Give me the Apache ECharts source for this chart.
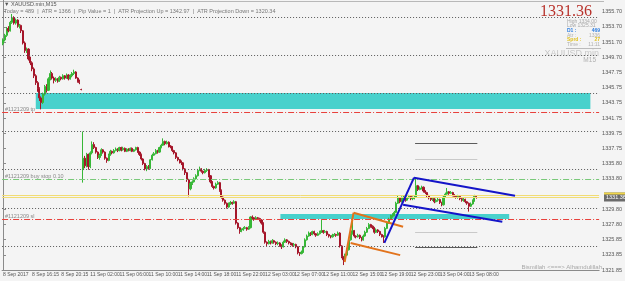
<!DOCTYPE html>
<html>
<head>
<meta charset="utf-8">
<script src="https://cdn.jsdelivr.net/npm/echarts@6/dist/echarts.min.js"></script>
<style>
  html, body { margin: 0; padding: 0; background: #f4f4f4; }
  #chart { width: 625px; height: 281px; }
</style>
</head>
<body>
<div id="chart"></div>
<script>
// XAUUSD.min M15 candles, [open, close, low, high]
const sep8 = [
  [1351.5,1352.0,1351.3,1352.2],[1352.0,1352.6,1351.8,1352.8],[1352.6,1353.5,1352.4,1353.7],[1353.5,1353.2,1353.0,1353.8],
  [1353.2,1354.3,1353.1,1354.5],[1354.3,1354.9,1354.1,1355.4],[1354.9,1354.2,1354.0,1355.1],[1354.2,1354.6,1354.0,1354.8],
  [1354.6,1353.8,1353.6,1354.7],[1353.8,1353.9,1353.5,1354.1],[1353.9,1353.2,1352.9,1354.0],[1353.2,1351.6,1351.4,1353.3],
  [1351.6,1350.6,1350.3,1351.8],[1350.6,1350.8,1350.3,1351.0],[1350.8,1349.5,1349.3,1350.9],[1349.5,1349.0,1348.7,1349.8],
  [1349.0,1348.2,1347.9,1349.2],[1348.2,1347.3,1347.0,1348.4],[1347.3,1346.4,1346.1,1347.5],[1346.4,1345.6,1345.2,1346.6],
  [1345.6,1344.4,1344.0,1345.8],[1344.4,1343.8,1342.9,1344.6],[1343.8,1344.9,1343.6,1345.1],[1344.9,1345.9,1344.7,1346.1],
  [1345.9,1345.4,1345.1,1346.2],[1345.4,1346.9,1345.3,1347.1],[1346.9,1347.6,1346.7,1348.0],[1347.6,1347.0,1346.8,1347.8],
  [1347.0,1346.7,1346.3,1347.2],[1346.7,1346.9,1346.5,1347.1],[1346.9,1346.6,1346.4,1347.0],[1346.6,1347.1,1346.5,1347.3],
  [1347.1,1346.9,1346.7,1347.2],[1346.9,1347.3,1346.8,1347.5],[1347.3,1347.0,1346.8,1347.4],[1347.0,1347.4,1346.9,1347.6],
  [1347.4,1346.9,1346.7,1347.5],[1346.9,1347.3,1346.8,1347.5],[1347.3,1347.6,1347.1,1347.8],[1347.6,1347.8,1347.4,1348.1],
  [1347.8,1347.0,1346.9,1347.9],[1347.0,1346.6,1346.4,1347.1],[1346.6,1346.4,1346.2,1346.8],[1345.5,1345.5,1345.4,1345.6]
];
const sep11 = [
  [1335.0,1336.5,1333.3,1340.0],[1336.5,1335.5,1335.2,1336.8],[1335.5,1337.0,1335.3,1337.2],[1337.0,1335.4,1335.0,1337.1],
  [1335.4,1337.2,1335.2,1337.4],[1337.2,1338.3,1337.0,1338.7],[1338.3,1337.9,1337.7,1338.6],[1337.9,1337.3,1337.1,1338.0],
  [1337.3,1336.6,1336.4,1337.4],[1336.6,1336.9,1336.3,1337.1],[1336.9,1337.6,1336.8,1337.8],[1337.6,1337.3,1337.1,1337.7],
  [1337.3,1336.5,1336.3,1337.4],[1336.5,1336.2,1335.9,1336.6],[1336.2,1336.9,1336.1,1337.1],[1336.9,1337.4,1336.8,1337.6],
  [1337.4,1337.2,1337.0,1337.5],[1337.2,1337.5,1337.1,1337.7],[1337.5,1337.7,1337.4,1337.9],[1337.7,1337.5,1337.3,1337.8],
  [1337.5,1337.9,1337.4,1338.0],[1337.9,1337.6,1337.4,1338.0],[1337.6,1337.8,1337.5,1338.0],[1337.8,1337.4,1337.3,1337.9],
  [1337.4,1337.7,1337.3,1337.8],[1337.7,1337.5,1337.4,1337.8],[1337.5,1337.8,1337.4,1337.9],[1337.8,1337.4,1337.3,1337.9],
  [1337.4,1337.6,1337.3,1337.7],[1337.6,1337.9,1337.5,1338.0],[1337.9,1337.3,1337.2,1338.0],[1337.3,1337.0,1336.8,1337.4],
  [1337.0,1336.4,1336.2,1337.1],[1336.4,1335.8,1335.6,1336.5],[1335.8,1335.1,1334.9,1335.9],[1335.1,1335.4,1334.8,1335.6],
  [1335.4,1335.2,1335.0,1335.6],[1335.2,1336.3,1335.1,1336.4],[1336.3,1336.9,1336.2,1337.1],[1336.9,1337.1,1336.8,1337.3],
  [1337.1,1337.5,1337.0,1337.7],[1337.5,1337.3,1337.1,1337.6],[1337.3,1337.9,1337.2,1338.0],[1337.9,1338.2,1337.8,1338.4],
  [1338.2,1338.7,1338.1,1339.1],[1338.7,1338.4,1338.2,1338.8],[1338.4,1338.6,1338.3,1338.8],[1338.6,1338.1,1337.9,1338.7],
  [1338.1,1338.0,1337.8,1338.2],[1338.0,1337.5,1337.3,1338.1],[1337.5,1337.2,1337.0,1337.6],[1337.2,1336.6,1336.4,1337.3],
  [1336.6,1336.3,1336.1,1336.7],[1336.3,1336.0,1335.8,1336.4],[1336.0,1335.9,1335.6,1336.2],[1335.9,1335.1,1334.9,1336.0],
  [1335.1,1334.6,1334.3,1335.2],[1334.6,1333.7,1333.4,1334.7],[1333.7,1332.5,1331.5,1333.8],[1332.5,1333.2,1332.3,1333.4],
  [1333.2,1333.4,1333.0,1333.6],[1333.4,1333.8,1333.3,1334.0],[1333.8,1334.2,1333.7,1334.4],[1334.2,1334.9,1334.1,1335.1],
  [1334.9,1335.1,1334.8,1335.4],[1335.1,1334.8,1334.6,1335.2],[1334.8,1334.6,1334.4,1334.9],[1334.6,1334.9,1334.5,1335.1],
  [1334.9,1335.0,1334.7,1335.2],[1335.0,1334.2,1334.0,1335.1],[1334.2,1333.4,1333.2,1334.3],[1333.4,1332.8,1332.6,1333.5],
  [1332.8,1332.6,1332.4,1332.9],[1332.6,1333.1,1332.5,1333.3],[1333.1,1333.3,1333.0,1333.5],[1333.3,1332.3,1332.1,1333.4],
  [1332.3,1331.4,1331.2,1332.4],[1331.4,1331.0,1330.8,1331.5],[1331.0,1330.6,1330.4,1331.1],[1330.6,1330.1,1329.9,1330.7],
  [1330.1,1330.5,1330.0,1330.7],[1330.5,1330.7,1330.4,1330.9],[1330.7,1330.6,1330.4,1330.8],[1330.6,1330.8,1330.5,1331.0],
  [1330.8,1328.0,1327.8,1330.9],[1328.0,1327.4,1327.2,1328.1],[1327.4,1326.9,1326.6,1327.5],[1326.9,1327.1,1326.8,1327.3],
  [1327.1,1327.3,1327.0,1327.5],[1327.3,1327.4,1327.2,1327.6],[1327.4,1327.2,1327.0,1327.5],[1327.2,1327.4,1327.1,1327.6]
];
const sep12 = [
  [1327.4,1328.8,1327.3,1328.9],[1328.8,1328.7,1328.5,1329.0],[1328.7,1328.5,1328.3,1328.8],[1328.5,1328.7,1328.4,1328.9],
  [1328.7,1328.6,1328.4,1328.8],[1328.6,1328.4,1328.2,1328.7],[1328.4,1328.0,1327.8,1328.5],[1328.0,1326.8,1326.6,1328.1],
  [1326.8,1325.5,1325.3,1326.9],[1325.5,1325.3,1325.0,1325.6],[1325.3,1325.6,1325.2,1325.8],[1325.6,1325.4,1325.2,1325.7],
  [1325.4,1325.7,1325.3,1325.9],[1325.7,1325.5,1325.3,1325.8],[1325.5,1325.3,1325.1,1325.6],[1325.3,1325.4,1325.1,1325.6],
  [1325.4,1325.1,1324.9,1325.5],[1325.1,1324.9,1324.6,1325.2],[1324.9,1325.5,1324.8,1325.7],[1325.5,1325.8,1325.4,1326.0],
  [1325.8,1325.6,1325.4,1325.9],[1325.6,1325.4,1325.2,1325.7],[1325.4,1325.3,1325.1,1325.5],[1325.3,1325.1,1324.9,1325.4],
  [1325.1,1325.2,1324.9,1325.4],[1325.2,1324.9,1324.7,1325.3],[1324.9,1324.1,1323.9,1325.0],[1324.1,1324.0,1323.7,1324.2],
  [1324.0,1324.2,1323.9,1324.4],[1324.2,1324.9,1324.1,1325.0],[1324.9,1325.8,1324.8,1326.0],[1325.8,1326.3,1325.7,1326.5],
  [1326.3,1326.7,1326.2,1326.9],[1326.7,1326.5,1326.3,1326.8],[1326.5,1326.9,1326.4,1327.0],[1326.9,1326.6,1326.4,1327.0],
  [1326.6,1326.4,1326.2,1326.7],[1326.4,1326.6,1326.3,1326.8],[1326.6,1326.8,1326.5,1327.0],[1326.8,1327.0,1326.7,1328.4],
  [1327.0,1326.8,1326.6,1327.1],[1326.8,1326.9,1326.7,1327.1],[1326.9,1326.5,1326.3,1327.0],[1326.5,1326.3,1326.1,1326.6],
  [1326.3,1326.2,1326.0,1326.4],[1326.2,1326.4,1326.1,1326.6],[1326.4,1326.5,1326.3,1326.7],[1326.5,1326.4,1326.2,1326.6],
  [1326.4,1326.7,1326.3,1326.9],[1326.7,1325.0,1324.8,1326.8],[1325.0,1323.6,1323.4,1325.1],[1323.6,1323.2,1322.5,1323.7],
  [1323.2,1323.8,1323.0,1324.0],[1323.8,1324.5,1323.7,1324.7],[1324.5,1325.8,1324.4,1326.0],[1325.8,1326.6,1325.7,1326.8],
  [1326.6,1327.0,1326.5,1328.8],[1327.0,1326.3,1326.1,1327.1],[1326.3,1326.2,1326.0,1326.4],[1326.2,1326.4,1326.1,1326.6],
  [1326.4,1326.1,1325.9,1326.5],[1326.1,1325.8,1325.6,1326.2],[1325.8,1326.3,1325.7,1326.5],[1326.3,1326.8,1326.2,1327.0],
  [1326.8,1327.3,1326.7,1327.5],[1327.3,1327.8,1327.2,1328.0],[1327.8,1327.6,1327.4,1327.9],[1327.6,1327.4,1327.2,1327.7],
  [1327.4,1326.8,1326.6,1327.5],[1326.8,1327.1,1326.7,1327.3],[1327.1,1326.9,1326.7,1327.2],[1326.9,1326.5,1326.3,1327.0],
  [1326.5,1326.3,1326.1,1326.6],[1326.3,1326.2,1325.4,1326.4],[1326.2,1327.3,1326.1,1327.5],[1327.3,1328.0,1327.2,1328.2],
  [1328.0,1328.5,1327.9,1328.7],[1328.5,1328.9,1328.4,1329.1],[1328.9,1329.0,1328.7,1329.3],[1329.0,1329.4,1328.9,1329.6],
  [1329.4,1330.6,1329.3,1330.8],[1330.6,1331.3,1330.5,1331.6],[1331.3,1330.8,1330.6,1331.4],[1330.8,1331.3,1330.7,1331.5],
  [1331.3,1331.4,1331.1,1331.6],[1331.4,1331.0,1330.8,1331.5],[1331.0,1331.3,1330.9,1331.5],[1331.3,1331.5,1331.2,1331.7],
  [1331.5,1331.2,1331.0,1331.6],[1331.2,1331.3,1331.0,1331.5],[1331.3,1331.4,1331.1,1331.6],[1331.4,1332.9,1331.3,1334.0]
];
const sep13 = [
  [1332.9,1332.4,1332.2,1333.0],[1332.4,1332.6,1332.3,1332.8],[1332.6,1332.7,1332.4,1332.9],[1332.7,1332.2,1332.0,1332.8],
  [1332.2,1332.0,1331.8,1332.3],[1332.0,1331.6,1331.4,1332.1],[1331.6,1331.3,1331.1,1331.7],[1331.3,1331.1,1330.9,1331.4],
  [1331.1,1331.2,1330.9,1331.4],[1331.2,1330.8,1330.6,1331.3],[1330.8,1331.0,1330.7,1331.2],[1331.0,1331.1,1330.8,1331.3],
  [1331.1,1330.7,1330.5,1331.2],[1330.7,1330.4,1330.2,1330.8],[1330.4,1331.4,1330.3,1331.6],[1331.4,1331.8,1331.3,1332.0],
  [1331.8,1332.1,1331.7,1332.6],[1332.1,1331.9,1331.7,1332.2],[1331.9,1332.0,1331.8,1332.2],[1332.0,1331.7,1331.5,1332.1],
  [1331.7,1331.5,1331.3,1331.8],[1331.5,1331.4,1331.2,1331.6],[1331.4,1331.5,1331.2,1331.7],[1331.5,1331.2,1331.0,1331.6],
  [1331.2,1331.0,1330.8,1331.3],[1331.0,1331.1,1330.8,1331.3],[1331.1,1330.8,1330.6,1331.2],[1330.8,1330.6,1330.4,1330.9],
  [1330.6,1330.2,1329.5,1330.7],[1330.2,1330.5,1330.1,1330.7],[1330.5,1330.9,1330.4,1331.1],[1330.9,1331.5,1330.8,1331.7],
  [1331.5,1331.36,1331.2,1331.6]
];

const xLabels = ['8 Sep 2017','8 Sep 16:15','8 Sep 20:15','11 Sep 02:00','11 Sep 06:00','11 Sep 10:00',
  '11 Sep 14:00','11 Sep 18:00','11 Sep 22:00','12 Sep 03:00','12 Sep 07:00','12 Sep 11:00',
  '12 Sep 15:00','12 Sep 19:00','12 Sep 23:00','13 Sep 04:00','13 Sep 08:00'];
const yLabels = [1355.70,1353.70,1351.70,1349.70,1347.75,1345.75,1343.75,1341.75,1339.75,1337.75,
  1335.80,1333.80,1329.80,1327.80,1325.85,1323.85,1321.85];

// levels on the chart
const roundLevels = [1355, 1350, 1345, 1340, 1335, 1330, 1325];
const tpLevel = 1342.55, slLevel = 1328.54, buyStopLevel = 1333.78;
const bid = 1331.36, ask = 1331.63;
// zones: [xFrom, xTo, priceTop, priceBottom] in bar units
const zones = [[18.0, 322.7, 1345.04, 1342.95], [152.4, 278.1, 1329.2, 1328.54]];
// pivot projection segments: [xFrom, xTo, price, dark?]
const pivots = [[226.4, 260.6, 1338.49, 1], [226.4, 260.6, 1336.40, 0], [226.4, 260.6, 1326.83, 0], [226.4, 260.6, 1324.87, 1]];
// hand drawn trend lines, [[bar, price], [bar, price]]
const blueLines = [[[209.5, 1325.4], [225.8, 1333.95]], [[225.8, 1333.95], [281.3, 1331.58]], [[219.8, 1330.40], [274.3, 1328.17]]];
const orangeLines = [[[187.7, 1322.9], [192.6, 1329.35]], [[192.6, 1329.35], [219.8, 1327.51]], [[191.0, 1325.4], [218.2, 1323.8]]];

const nCat = 328;
const candles = sep8.concat(sep11, sep12, sep13);
const cats = [];
for (let i = 0; i < nCat; i++) cats.push(String(i));

const FONT = 'Liberation Sans';
const chart = echarts.init(document.getElementById('chart'));

const hLine = (v, color, type) => ({
  yAxis: v, lineStyle: { color: color, type: type, width: 1 }
});
const segs = (list, color, w) => list.map(s => [
  { coord: s[0], lineStyle: { color: color, width: w, type: 'solid' } },
  { coord: s[1] }
]);
const isLabelBar = i => i % 16 === 0 && i / 16 < xLabels.length;

chart.setOption({
  animation: false,
  backgroundColor: '#f4f4f4',
  grid: { left: 1, right: 21, top: 0, bottom: 10.6 },
  xAxis: [{
    type: 'category',
    data: cats,
    boundaryGap: true,
    axisLine: { lineStyle: { color: '#8a8a8a' } },
    axisTick: { interval: isLabelBar, length: 3, lineStyle: { color: '#8a8a8a' } },
    axisLabel: {
      interval: 15,
      formatter: (v, i) => xLabels[i / 16] || '',
      showMinLabel: true, showMaxLabel: false, hideOverlap: false,
      fontSize: 5, fontFamily: FONT, color: '#555', align: 'left', margin: 1.5
    },
    splitLine: { show: false }
  }, {
    type: 'value', min: -0.5, max: nCat - 0.5, show: false
  }],
  yAxis: {
    type: 'value', position: 'right', min: 1321.80, max: 1357.23, scale: true,
    axisLine: { show: true, lineStyle: { color: '#8a8a8a' } },
    axisTick: { show: true, length: 3, customValues: yLabels, lineStyle: { color: '#8a8a8a' } },
    axisLabel: { customValues: yLabels, formatter: v => v.toFixed(2), fontSize: 5.5, fontFamily: FONT, color: '#555', margin: 3 },
    splitLine: { show: false }
  },
  series: [{
    type: 'candlestick',
    data: candles,
    barWidth: 1.6,
    itemStyle: { color: '#37b737', color0: '#a51529', borderColor: '#37b737', borderColor0: '#a51529', borderWidth: 1 },
    markLine: {
      silent: true, symbol: 'none', label: { show: false },
      data: roundLevels.map(v => hLine(v, '#5a5a5a', [1, 2]))
        .concat([hLine(tpLevel, '#e8413c', [6, 2, 1, 2]), hLine(slLevel, '#e8413c', [6, 2, 1, 2]),
                 hLine(buyStopLevel, '#79c979', [6, 2, 1, 2]),
                 hLine(ask, '#f1dc74', 'solid'), hLine(bid, '#f1dc74', 'solid')])
    },
    z: 3
  }, {
    type: 'line', xAxisIndex: 1, data: [], symbol: 'none', z: 2,
    markArea: {
      silent: true,
      itemStyle: { color: '#48d1cc' },
      data: zones.map(z => [{ coord: [z[0], z[2]] }, { coord: [z[1], z[3]] }])
    }
  }, {
    type: 'line', xAxisIndex: 1, data: [], symbol: 'none', z: 4,
    markLine: {
      silent: true, symbol: 'none', label: { show: false },
      data: pivots.map(p => [
        { coord: [p[0], p[2]], lineStyle: { color: p[3] ? '#5c5c5c' : '#c9c9c9', width: 1, type: 'solid' } },
        { coord: [p[1], p[2]] }
      ]).concat(segs(orangeLines, '#e2731c', 2), segs(blueLines, '#1414c8', 2))
    }
  }],
  graphic: [
    { type: 'line', shape: { x1: 0, y1: 1.5, x2: 604, y2: 1.5 }, style: { stroke: '#b8b8b8', lineWidth: 1 } },
    { type: 'text', left: 4, top: 1, style: { text: '\u25BC XAUUSD.min,M15', fontSize: 5.5, fontFamily: FONT, fill: '#555' } },
    { type: 'text', left: 4, top: 8, style: { text: 'Today = 489  |  ATR = 1366  |  Pip Value = 1  |  ATR Projection Up = 1342.97  |  ATR Projection Down = 1320.34', fontSize: 5.5, fontFamily: FONT, fill: '#777' } },
    { type: 'text', left: 5, top: 106, style: { text: '#1121209 tp', fontSize: 5.5, fontFamily: FONT, fill: '#888' } },
    { type: 'text', left: 5, top: 173, style: { text: '#1121209 buy stop 0.10', fontSize: 5.5, fontFamily: FONT, fill: '#888' } },
    { type: 'text', left: 5, top: 213, style: { text: '#1121209 sl', fontSize: 5.5, fontFamily: FONT, fill: '#888' } },
    { type: 'text', right: 33, top: 4, style: { text: '1331.36', fontSize: 16, fontFamily: 'Liberation Serif', fill: '#b8322b' } },
    { type: 'text', left: 567, top: 19, style: { text: 'High 1334.00\nLow 1325.31', fontSize: 5, lineHeight: 4.6, fontFamily: FONT, fill: '#a8a8a8' } },
    { type: 'text', left: 567, top: 28.5, style: { text: 'D1 :', fontSize: 5, fontFamily: FONT, fontWeight: 'bold', fill: '#2f7fe0' } },
    { type: 'text', right: 25, top: 28.5, style: { text: '469', fontSize: 5, fontFamily: FONT, fontWeight: 'bold', fill: '#2f7fe0' } },
    { type: 'text', left: 567, top: 33, style: { text: 'Atr :', fontSize: 5, fontFamily: FONT, fill: '#b0b0b0' } },
    { type: 'text', right: 25, top: 33, style: { text: '1336', fontSize: 5, fontFamily: FONT, fill: '#b0b0b0' } },
    { type: 'text', left: 567, top: 37.5, style: { text: 'Sprd :', fontSize: 5, fontFamily: FONT, fontWeight: 'bold', fill: '#e0c020' } },
    { type: 'text', right: 25, top: 37.5, style: { text: '27', fontSize: 5, fontFamily: FONT, fontWeight: 'bold', fill: '#e0c020' } },
    { type: 'text', left: 567, top: 42, style: { text: 'Time :', fontSize: 5, fontFamily: FONT, fill: '#b0b0b0' } },
    { type: 'text', right: 25, top: 42, style: { text: '11:11', fontSize: 5, fontFamily: FONT, fill: '#b0b0b0' } },
    { type: 'line', shape: { x1: 566, y1: 48.5, x2: 601, y2: 48.5 }, style: { stroke: '#bbb', lineWidth: 1 } },
    { type: 'text', right: 26, top: 49, style: { text: 'XAUUSD.min', fontSize: 9, fontFamily: FONT, fill: '#c8c8c8' } },
    { type: 'text', right: 29, top: 57, style: { text: 'M15', fontSize: 6.5, fontFamily: FONT, fill: '#b0b0b0' } },
    { type: 'text', right: 23, top: 264, style: { text: 'Bismillah <===> Alhamdulillah', fontSize: 6, fontFamily: FONT, fill: '#a8a8a8' } },
    { type: 'rect', shape: { x: 604, y: 192.5, width: 21, height: 9 }, style: { fill: '#6b6b6b' } },
    { type: 'rect', shape: { x: 604, y: 192.5, width: 21, height: 2 }, style: { fill: '#f1d64a' } },
    { type: 'text', left: 606, top: 194.5, style: { text: '1331.36', fontSize: 5.5, fontFamily: FONT, fill: '#fff' } }
  ]
});
</script>
</body>
</html>
